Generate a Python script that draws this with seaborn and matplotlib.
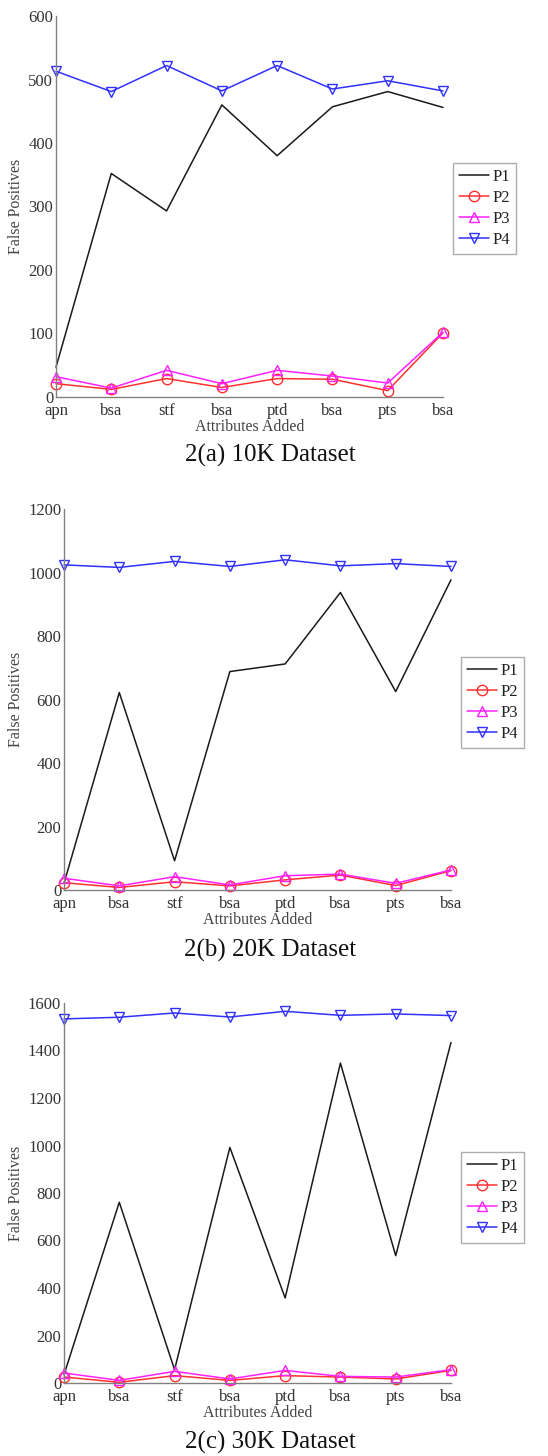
import matplotlib
matplotlib.use("Agg")
import matplotlib.pyplot as plt
import seaborn as sns
import pandas as pd
import numpy as np

sns.set_style("white")
plt.rcParams['font.family'] = ['Liberation Serif', 'DejaVu Serif']

categories = ["apn", "bsa", "stf", "bsa", "ptd", "bsa", "pts", "bsa"]
series_names = ["P1", "P2", "P3", "P4"]

# Panel (a) 10K
a_P1 = [47, 352, 293, 460, 380, 457, 481, 456]
a_P2 = [21, 12, 29, 15, 29, 28, 10, 101]
a_P3 = [32, 14, 42, 21, 42, 33, 22, 102]
a_P4 = [513, 481, 522, 482, 522, 485, 498, 482]

# Panel (b) 20K
b_P1 = [21, 622, 92, 688, 712, 937, 625, 977]
b_P2 = [23, 8, 26, 13, 32, 47, 14, 61]
b_P3 = [37, 13, 42, 16, 45, 50, 21, 63]
b_P4 = [1024, 1016, 1035, 1019, 1040, 1021, 1028, 1019]

# Panel (c) 30K
c_P1 = [35, 761, 56, 992, 358, 1347, 536, 1434]
c_P2 = [25, 3, 31, 11, 31, 25, 17, 53]
c_P3 = [42, 11, 49, 17, 53, 28, 25, 56]
c_P4 = [1533, 1540, 1558, 1541, 1565, 1548, 1554, 1547]

captions = ["2(a) 10K Dataset", "2(b) 20K Dataset", "2(c) 30K Dataset"]
y_max = [600, 1200, 1600]
y_step = [100, 200, 200]

colors = {"P1": "#1a1a1a", "P2": "#ff3030", "P3": "#ff20ff", "P4": "#3030ff"}
markers = {"P1": None, "P2": "o", "P3": "^", "P4": "v"}

W, H = 548, 1456
fig = plt.figure(figsize=(W / 100, H / 100), dpi=100)

# pixel boxes: left, right, top, bottom ; legend left, top ; caption y
boxes = [
    (56, 443, 16, 397, 453, 163, 455),
    (64, 451, 509, 890, 461, 657, 950),
    (64, 451, 1003, 1383, 461, 1152, 1442),
]
panels = [
    [a_P1, a_P2, a_P3, a_P4],
    [b_P1, b_P2, b_P3, b_P4],
    [c_P1, c_P2, c_P3, c_P4],
]

spine_col = "#808080"
text_col = "#333333"

for i, (vals, box) in enumerate(zip(panels, boxes)):
    l, r, t, b, lgx, lgy, capy = box
    ax = fig.add_axes([l / W, 1 - b / H, (r - l) / W, (b - t) / H])
    x = np.arange(len(categories))
    for name, v in zip(series_names, vals):
        df = pd.DataFrame({"x": x, "y": v})
        sns.lineplot(data=df, x="x", y="y", ax=ax, color=colors[name],
                     marker=markers[name], markersize=7.5,
                     markerfacecolor="none", markeredgecolor=colors[name],
                     markeredgewidth=1.0, linewidth=1.1, label=name,
                     clip_on=False)
    ax.set_xlim(0, len(categories) - 1)
    ax.set_ylim(0, y_max[i])
    ax.set_xticks(x)
    ax.set_xticklabels(categories)
    ax.set_yticks(np.arange(0, y_max[i] + 1, y_step[i]))
    for s in ["top", "right"]:
        ax.spines[s].set_visible(False)
    for s in ["left", "bottom"]:
        ax.spines[s].set_color(spine_col)
        ax.spines[s].set_linewidth(1.0)
    ax.tick_params(axis="both", direction="in", length=4, width=0.8,
                   color=spine_col, labelsize=12, labelcolor=text_col, pad=2)
    ax.tick_params(axis="x", pad=4)
    ax.set_xlabel("Attributes Added", fontsize=11.5, color="#444444", labelpad=0)
    ax.set_ylabel("False Positives", fontsize=11.5, color="#444444", labelpad=3)
    ax.grid(False)
    leg = ax.legend(loc="upper left", bbox_to_anchor=(lgx / W, 1 - lgy / H),
                    bbox_transform=fig.transFigure, borderaxespad=0,
                    fontsize=12, frameon=True, fancybox=False,
                    handlelength=1.8, handletextpad=0.25, labelspacing=0.3,
                    borderpad=0.35)
    leg.get_frame().set_edgecolor("#999999")
    leg.get_frame().set_linewidth(1.0)
    for txt in leg.get_texts():
        txt.set_color("#222222")
    fig.text(270 / W, 1 - capy / H, captions[i],
             ha="center", va="center", fontsize=18, color="#111111")

fig.savefig("out.png", dpi=100)
